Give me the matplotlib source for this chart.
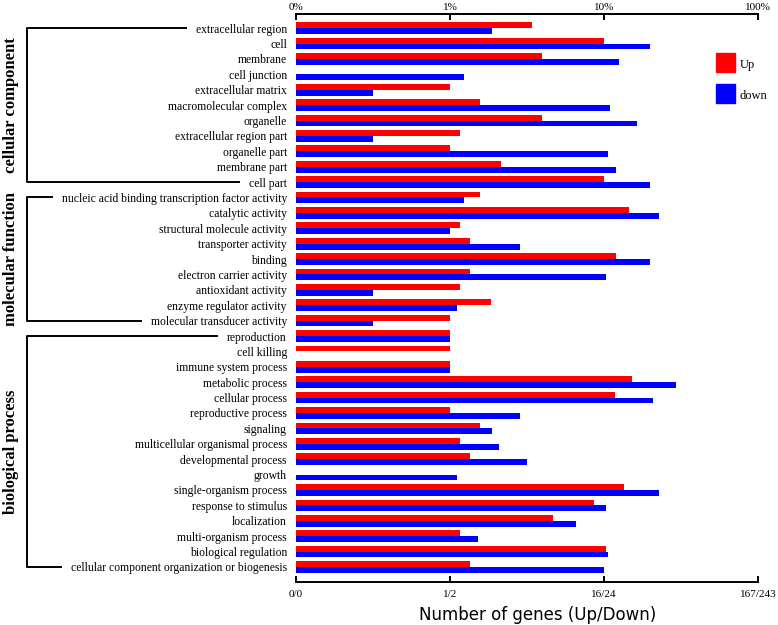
import matplotlib
matplotlib.use("Agg")
import matplotlib.pyplot as plt
import numpy as np
from matplotlib.lines import Line2D
from matplotlib.patches import Rectangle

plt.rcParams['font.family'] = ['Liberation Serif', 'DejaVu Serif']

# GO terms, top to bottom
categories = [
    'extracellular region', 'cell', 'membrane', 'cell junction', 'extracellular matrix',
    'macromolecular complex', 'organelle', 'extracellular region part', 'organelle part',
    'membrane part', 'cell part',
    'nucleic acid binding transcription factor activity', 'catalytic activity',
    'structural molecule activity', 'transporter activity', 'binding',
    'electron carrier activity', 'antioxidant activity', 'enzyme regulator activity',
    'molecular transducer activity',
    'reproduction', 'cell killing', 'immune system process', 'metabolic process',
    'cellular process', 'reproductive process', 'signaling',
    'multicellular organismal process', 'developmental process', 'growth',
    'single-organism process', 'response to stimulus', 'localization',
    'multi-organism process', 'biological regulation',
    'cellular component organization or biogenesis',
]

# percent of genes (0 = no bar)
up_pct = [
    3.42, 9.97, 3.97, 0, 1.0, 1.575, 3.97, 1.163, 1.0, 2.155, 9.97,
    1.575, 14.6, 1.163, 1.357, 12.0, 1.357, 1.163, 1.847, 1.0,
    1.0, 1.0, 1.0, 15.1, 11.8, 1.0, 1.575, 1.163, 1.357, 0,
    13.4, 8.55, 4.64, 1.163, 10.28, 1.357,
]
down_pct = [
    1.875, 19.8, 12.6, 1.228, 0.314, 10.97, 16.4, 0.314, 10.65, 11.94, 20.0,
    1.228, 22.9, 1.0, 2.85, 20.0, 10.33, 0.314, 1.106, 0.314,
    1.0, 0, 1.0, 29.5, 20.7, 2.85, 1.875, 2.08, 3.16, 1.106,
    22.6, 10.23, 6.57, 1.514, 10.65, 9.97,
]

groups = ['cellular component', 'molecular function', 'biological process']
group_sizes = [11, 9, 16]

top_ticks = [0.1, 1, 10, 100]
top_labels = ['0%', '1%', '10%', '100%']
bottom_labels = ['0/0', '1/2', '16/24', '167/243']

W, H = 778, 625
fig = plt.figure(figsize=(W / 100, H / 100), dpi=100)
ax = fig.add_axes([296 / W, 1 - 581.7 / H, (758 - 296) / W, (581.7 - 14) / H])

y = np.arange(len(categories))
up = np.array(up_pct)
down = np.array(down_pct)
h = 0.38
ax.barh(y - h / 2, np.where(up > 0, up - 0.1, 0), left=0.1, height=h, color='#ff0000', linewidth=0)
ax.barh(y + h / 2, np.where(down > 0, down - 0.1, 0), left=0.1, height=h, color='#0000ff', linewidth=0)

ax.set_xscale('log')
ax.set_xlim(0.1, 100)
ax.set_ylim(len(categories) - 0.04, -0.92)

ax.set_yticks(y)
ax.set_yticklabels(categories, fontsize=8.4)
ax.tick_params(axis='y', length=0, pad=6.5)

ax.set_xticks(top_ticks)
ax.set_xticklabels(bottom_labels, fontsize=8)
ax.xaxis.set_minor_locator(matplotlib.ticker.NullLocator())
ax.tick_params(axis='x', direction='in', length=4, width=1.4, pad=6)

for s in ['left', 'right']:
    ax.spines[s].set_visible(False)
for s in ['top', 'bottom']:
    ax.spines[s].set_linewidth(1.4)

sec = ax.secondary_xaxis('top')
sec.set_xticks(top_ticks)
sec.set_xticklabels(top_labels, fontsize=8)
sec.xaxis.set_minor_locator(matplotlib.ticker.NullLocator())
sec.tick_params(axis='x', direction='in', length=4, width=1.4, pad=1.5)
sec.spines['top'].set_linewidth(1.4)

ax.set_xlabel('Number of genes (Up/Down)', fontsize=12, family='DejaVu Sans', labelpad=5)
ax.xaxis.label.set_x((538 - 296) / (758 - 296))

# legend
for i, (lab, col) in enumerate([('Up', '#ff0000'), ('down', '#0000ff')]):
    y0 = 53 + i * 31
    fig.add_artist(Rectangle((716 / W, 1 - (y0 + 19) / H), 19 / W, 19 / H,
                             transform=fig.transFigure, color=col))
    fig.text(740 / W, 1 - (y0 + 12) / H, lab, fontsize=9, va='center', ha='left')

# group brackets
fig.canvas.draw()
renderer = fig.canvas.get_renderer()
labels = ax.get_yticklabels()
start = 0
for name, n in zip(groups, group_sizes):
    first, last = start, start + n - 1
    yf = ax.transData.transform((1, first))[1]
    yl = ax.transData.transform((1, last))[1]
    xf = labels[first].get_window_extent(renderer).x0 - 10
    xl = labels[last].get_window_extent(renderer).x0 - 10
    xs = [xf / W, 27 / W, 27 / W, xl / W]
    ys = [yf / H, yf / H, yl / H, yl / H]
    fig.add_artist(Line2D(xs, ys, transform=fig.transFigure, color='black', lw=1.4))
    fig.text(11 / W, (yf + yl) / 2 / H, name, rotation=90, fontsize=12,
             fontweight='bold', ha='center', va='center')
    start += n

fig.savefig('out.png', dpi=100)
